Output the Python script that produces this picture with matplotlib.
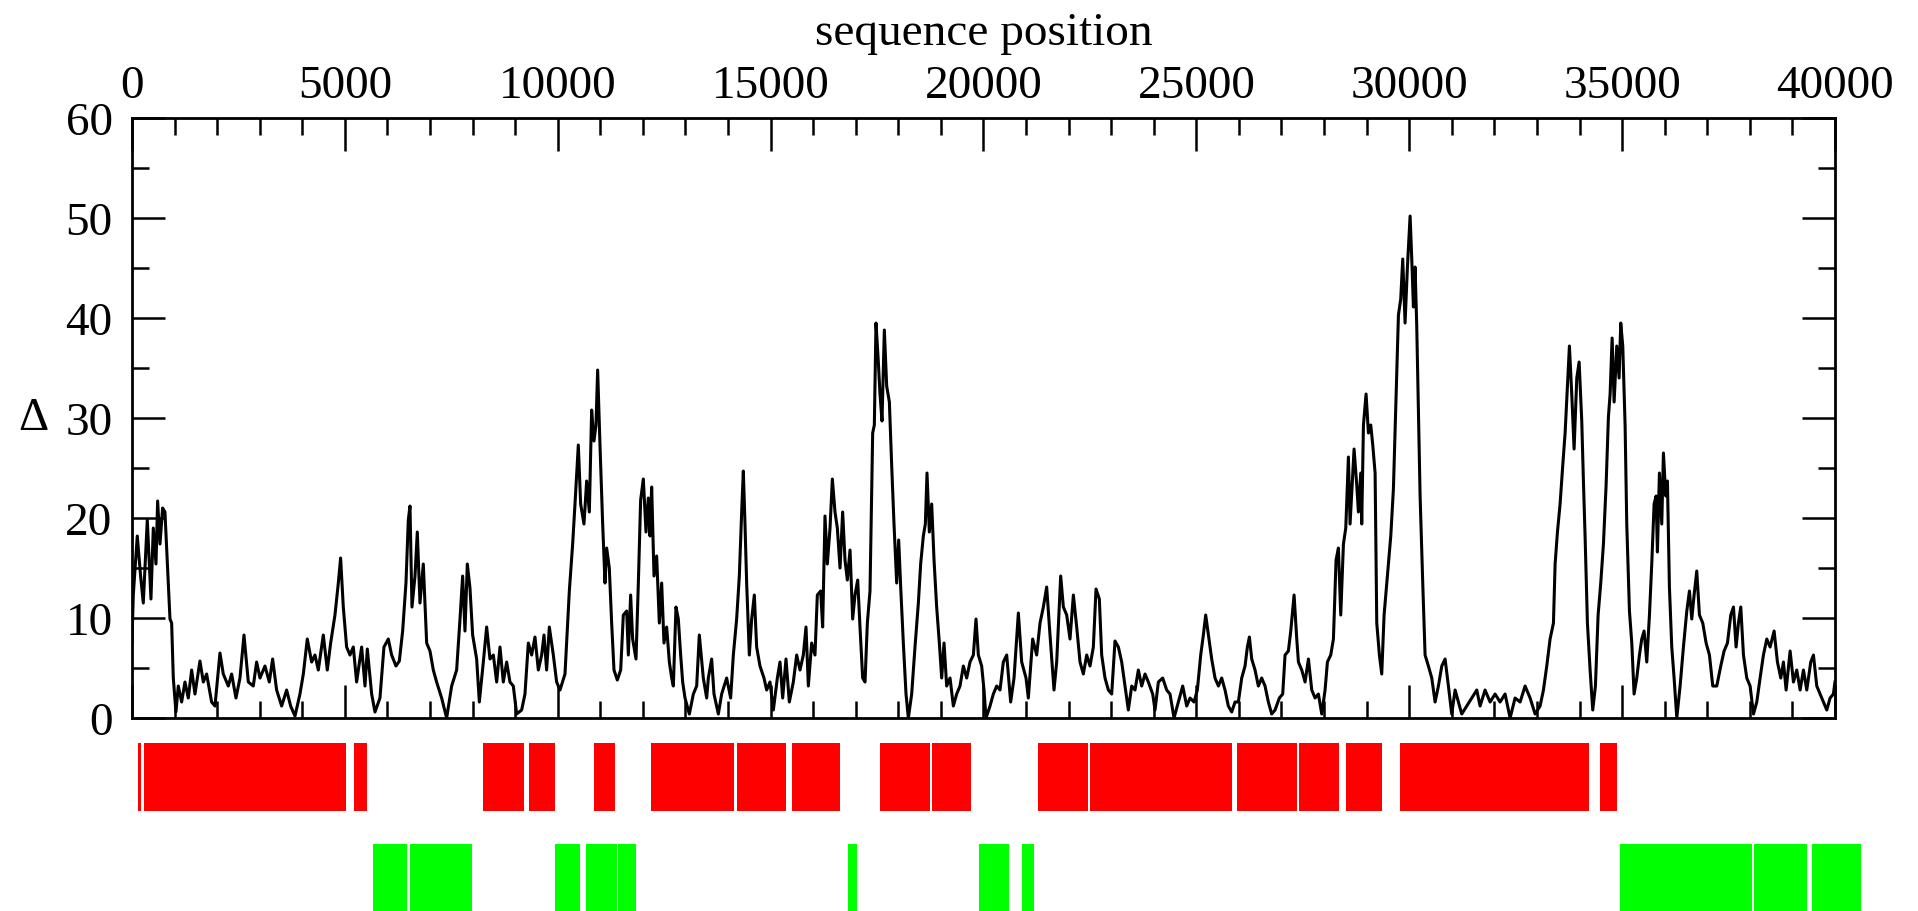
import matplotlib
matplotlib.use("Agg")
import matplotlib.pyplot as plt
from matplotlib.ticker import MultipleLocator

plt.rcParams['font.family'] = ['Liberation Serif', 'DejaVu Serif']

# traced profile (sequence position, delta)
position = [
    0, 31, 125, 203, 266, 360, 446, 501, 564, 603, 658, 720, 775, 853, 893, 932,
    971, 1033, 1088, 1167, 1245, 1323, 1402, 1480, 1597, 1676, 1754, 1871, 1950,
    2067, 2145, 2263, 2341, 2443, 2537, 2631, 2733, 2850, 2928, 3007, 3124, 3226,
    3304, 3398, 3516, 3633, 3727, 3829, 3946, 4025, 4118, 4220, 4299, 4377, 4494,
    4588, 4667, 4768, 4847, 4901, 4964, 5042, 5121, 5199, 5277, 5395, 5473, 5528,
    5630, 5708, 5825, 5919, 6021, 6099, 6201, 6280, 6358, 6436, 6491, 6530, 6577,
    6648, 6702, 6765, 6843, 6922, 7000, 7078, 7156, 7274, 7391, 7509, 7626, 7705,
    7767, 7822, 7877, 7939, 8002, 8096, 8159, 8253, 8331, 8409, 8488, 8566, 8644,
    8722, 8801, 8879, 8957, 9036, 9153, 9231, 9310, 9388, 9466, 9545, 9623, 9678,
    9740, 9803, 9897, 9975, 10054, 10171, 10273, 10351, 10406, 10484, 10539, 10617,
    10680, 10743, 10797, 10852, 10899, 10938, 10993, 11056, 11111, 11150, 11212,
    11267, 11322, 11400, 11479, 11541, 11620, 11659, 11713, 11760, 11839, 11894,
    11948, 12011, 12074, 12128, 12168, 12207, 12262, 12324, 12387, 12442, 12496,
    12559, 12622, 12677, 12716, 12778, 12833, 12888, 12935, 12990, 13092, 13186,
    13264, 13326, 13420, 13499, 13538, 13616, 13671, 13773, 13851, 13968, 14062,
    14125, 14203, 14266, 14321, 14360, 14399, 14438, 14501, 14556, 14618, 14673,
    14751, 14845, 14908, 14986, 15065, 15159, 15221, 15284, 15362, 15440, 15534,
    15613, 15691, 15769, 15832, 15887, 15965, 16043, 16098, 16176, 16223, 16278,
    16333, 16396, 16451, 16513, 16568, 16631, 16693, 16748, 16803, 16866, 16928,
    16983, 17046, 17100, 17163, 17218, 17273, 17335, 17398, 17437, 17476, 17531,
    17570, 17617, 17672, 17727, 17790, 17844, 17899, 17962, 18009, 18056, 18118,
    18181, 18236, 18314, 18392, 18471, 18525, 18588, 18635, 18674, 18729, 18784,
    18839, 18901, 18964, 19019, 19074, 19136, 19215, 19293, 19371, 19449, 19528,
    19606, 19684, 19763, 19825, 19880, 19958, 20013, 20060, 20154, 20232, 20311,
    20389, 20467, 20546, 20639, 20718, 20820, 20898, 21000, 21054, 21156, 21250,
    21329, 21407, 21485, 21563, 21657, 21720, 21814, 21877, 21955, 22033, 22112,
    22190, 22268, 22346, 22425, 22503, 22581, 22644, 22722, 22777, 22855, 22934,
    23012, 23090, 23169, 23247, 23325, 23403, 23482, 23560, 23638, 23717, 23795,
    23873, 23975, 24030, 24108, 24210, 24304, 24382, 24476, 24578, 24680, 24774,
    24852, 24946, 25024, 25103, 25165, 25220, 25283, 25361, 25439, 25518, 25596,
    25674, 25752, 25831, 25909, 25987, 26066, 26144, 26199, 26246, 26301, 26379,
    26457, 26535, 26614, 26692, 26770, 26849, 26950, 27029, 27084, 27162, 27218,
    27296, 27359, 27398, 27476, 27554, 27633, 27711, 27789, 27867, 27946, 28024,
    28079, 28157, 28220, 28282, 28337, 28392, 28455, 28510, 28572, 28611, 28666,
    28705, 28768, 28807, 28862, 28885, 28925, 28987, 29042, 29097, 29144, 29199,
    29238, 29300, 29355, 29410, 29457, 29512, 29567, 29629, 29692, 29747, 29801,
    29848, 29903, 29958, 30021, 30060, 30099, 30138, 30177, 30216, 30256, 30318,
    30373, 30451, 30530, 30608, 30686, 30765, 30843, 30921, 30999, 31078, 31156,
    31234, 31352, 31469, 31587, 31665, 31782, 31900, 32017, 32135, 32252, 32370,
    32487, 32605, 32722, 32840, 32957, 33074, 33153, 33231, 33309, 33388, 33427,
    33482, 33544, 33607, 33662, 33716, 33763, 33818, 33873, 33936, 33991, 34053,
    34092, 34131, 34186, 34249, 34311, 34374, 34437, 34499, 34562, 34625, 34679,
    34719, 34766, 34813, 34875, 34930, 34969, 35016, 35071, 35110, 35173, 35228,
    35282, 35345, 35408, 35462, 35517, 35580, 35643, 35697, 35752, 35799, 35830,
    35877, 35932, 35971, 36026, 36065, 36112, 36167, 36222, 36285, 36363, 36441,
    36520, 36582, 36637, 36692, 36754, 36817, 36895, 36974, 37052, 37130, 37224,
    37318, 37396, 37475, 37553, 37616, 37678, 37733, 37788, 37851, 37929, 38007,
    38086, 38164, 38242, 38320, 38399, 38477, 38571, 38649, 38728, 38790, 38853,
    38947, 39025, 39103, 39182, 39260, 39338, 39432, 39495, 39573, 39651, 39730,
    39808, 39886, 39964, 40000,
]
delta = [
    7.5, 12.3, 18.2, 14.2, 11.5, 19.8, 11.9, 19.0, 15.4, 21.7, 17.4, 21.0, 20.6,
    13.5, 9.9, 9.5, 4.0, 0.6, 3.2, 1.6, 3.6, 2.0, 4.8, 2.4, 5.7, 3.6, 4.4, 1.6,
    1.2, 6.5, 4.4, 3.2, 4.4, 2.0, 4.0, 8.3, 3.6, 3.2, 5.6, 4.0, 5.2, 3.6, 5.9,
    2.8, 1.2, 2.8, 1.2, 0.2, 2.4, 4.4, 7.9, 5.6, 6.3, 4.8, 8.3, 4.8, 7.5, 10.3,
    13.5, 16.0, 11.1, 7.1, 6.3, 7.1, 3.6, 7.1, 3.2, 6.9, 2.4, 0.6, 2.0, 7.1, 7.9,
    6.3, 5.2, 5.7, 8.7, 13.5, 19.8, 21.2, 11.1, 14.2, 18.6, 11.5, 15.4, 7.5, 6.7,
    4.8, 3.6, 2.0, 0.0, 3.2, 4.8, 9.9, 14.2, 8.7, 15.4, 13.0, 8.3, 5.9, 1.6, 5.6,
    9.1, 5.9, 6.3, 3.6, 7.1, 3.6, 5.6, 3.6, 3.2, 0.4, 0.8, 2.4, 7.5, 6.3, 8.1,
    4.8, 6.3, 8.3, 4.8, 9.1, 6.3, 3.6, 2.8, 4.4, 12.7, 17.4, 21.4, 27.3, 21.4,
    19.4, 23.7, 20.6, 30.8, 27.7, 29.3, 34.8, 27.3, 19.4, 13.5, 17.0, 15.0, 9.5,
    4.8, 3.8, 4.8, 10.3, 10.7, 6.3, 12.3, 7.9, 5.9, 13.5, 21.8, 23.9, 18.6, 22.0,
    18.2, 23.1, 14.2, 16.2, 9.5, 13.5, 7.5, 9.1, 5.6, 4.0, 3.2, 11.1, 9.9, 6.3,
    3.6, 2.0, 0.4, 2.4, 3.2, 8.3, 4.0, 2.0, 4.0, 5.9, 2.4, 0.4, 2.4, 4.0, 2.0,
    6.3, 9.9, 14.2, 20.6, 24.7, 19.4, 13.5, 6.3, 9.9, 12.3, 7.1, 5.2, 4.0, 2.8,
    3.6, 0.8, 4.0, 5.6, 2.0, 5.9, 1.6, 3.6, 6.3, 4.8, 6.3, 9.1, 3.2, 7.5, 6.3,
    12.3, 12.7, 9.1, 20.2, 15.4, 19.0, 23.9, 20.6, 19.0, 15.0, 20.6, 15.8, 13.8,
    16.8, 9.9, 12.3, 13.8, 9.1, 4.0, 3.6, 9.5, 12.7, 28.5, 29.3, 39.5, 35.6, 32.4,
    29.7, 38.8, 33.2, 31.6, 25.3, 19.4, 13.5, 17.8, 13.1, 7.5, 2.4, 0.0, 2.4, 7.1,
    11.5, 15.4, 18.2, 19.4, 24.5, 18.6, 21.4, 15.8, 11.1, 7.5, 4.0, 7.5, 3.2, 4.0,
    1.2, 2.4, 3.2, 5.2, 4.0, 5.6, 6.3, 9.9, 6.3, 5.2, 2.8, 0.0, 1.2, 2.4, 3.2,
    2.8, 5.6, 6.3, 1.6, 4.0, 10.5, 5.6, 4.0, 2.0, 7.9, 6.3, 9.5, 11.1, 13.1, 8.3,
    2.8, 5.6, 14.2, 11.1, 10.3, 7.9, 12.3, 9.1, 5.6, 4.4, 6.3, 5.2, 7.1, 12.9,
    11.9, 6.3, 4.0, 2.8, 2.4, 7.7, 7.1, 5.6, 3.2, 0.8, 3.2, 2.8, 4.8, 3.2, 4.4,
    3.6, 2.4, 0.8, 3.6, 4.0, 2.8, 2.4, 0.0, 1.6, 3.2, 1.2, 2.0, 1.6, 2.8, 6.3,
    8.3, 10.3, 8.3, 5.9, 4.0, 3.2, 4.0, 2.8, 1.2, 0.6, 1.6, 1.6, 4.0, 5.2, 7.1,
    8.1, 5.9, 4.8, 3.2, 4.0, 3.2, 1.6, 0.4, 0.8, 2.0, 2.4, 6.3, 6.7, 8.7, 12.3,
    7.9, 5.6, 4.8, 3.6, 5.9, 2.8, 2.0, 2.4, 0.4, 2.8, 5.6, 6.3, 7.9, 15.8, 17.0,
    10.3, 17.4, 19.0, 26.1, 19.4, 23.7, 26.9, 23.3, 20.6, 24.5, 19.4, 29.3, 32.4,
    28.5, 29.3, 27.3, 24.5, 9.5, 6.3, 4.4, 10.3, 12.7, 15.4, 18.2, 22.9, 32.4,
    40.3, 41.9, 45.9, 39.5, 45.1, 50.2, 45.9, 41.1, 45.1, 39.2, 30.8, 22.2, 13.5,
    6.3, 5.2, 4.0, 1.6, 3.2, 5.2, 5.9, 3.2, 0.4, 2.8, 1.6, 0.4, 1.2, 2.0, 2.8,
    1.2, 2.8, 1.6, 2.4, 1.6, 2.4, 0.0, 2.0, 1.6, 3.2, 2.0, 0.4, 1.2, 2.8, 5.2,
    7.9, 9.5, 15.4, 18.6, 21.4, 25.3, 28.5, 33.2, 37.2, 32.4, 26.9, 34.0, 35.6,
    29.7, 23.7, 18.2, 9.5, 4.8, 0.8, 3.2, 10.3, 13.5, 17.4, 23.3, 30.1, 32.4,
    38.0, 31.6, 37.2, 34.0, 39.5, 37.2, 29.3, 19.4, 10.7, 7.5, 2.4, 4.0, 6.3, 7.9,
    8.7, 5.6, 10.3, 15.4, 21.4, 22.2, 16.6, 24.5, 19.4, 26.5, 22.2, 23.7, 13.1,
    7.1, 4.0, 0.0, 3.2, 7.1, 10.7, 12.7, 9.9, 12.3, 14.7, 10.3, 9.5, 7.5, 6.3,
    3.2, 3.2, 5.2, 6.7, 7.5, 10.3, 11.1, 7.1, 9.5, 11.1, 6.3, 4.0, 3.2, 0.4, 1.6,
    4.0, 6.3, 7.9, 7.1, 8.7, 5.6, 4.0, 5.6, 2.8, 6.7, 3.6, 4.8, 2.8, 4.8, 2.8,
    5.6, 6.3, 3.2, 2.4, 1.6, 0.8, 2.0, 2.4, 3.6,
]

# annotation blocks (start, end) in sequence position
red_start = [136, 284, 5219, 8241, 9333, 10857, 12192, 14214, 15508, 17571,
             18799, 21284, 22508, 25960, 27418, 28517, 29783, 34486]
red_end = [216, 5031, 5515, 9210, 9939, 11341, 14146, 15360, 16629, 18745,
           19715, 22452, 25837, 27362, 28353, 29355, 34225, 34885]
green_start = [5666, 6528, 9939, 10667, 11424, 16817, 19887, 20911, 34952,
               38100, 39463]
green_end = [6460, 7984, 10519, 11395, 11842, 17032, 20596, 21188, 38050,
             39341, 40620]

fig = plt.figure(figsize=(19.18, 9.12), dpi=100)
ax = fig.add_axes([0.0688, 0.2116, 0.8879, 0.6579])
ax.plot(position, delta, color='black', lw=2.2)
ax.set_xlim(0, 40000)
ax.set_ylim(0, 60)

ax.xaxis.set_major_locator(MultipleLocator(5000))
ax.xaxis.set_minor_locator(MultipleLocator(1000))
ax.yaxis.set_major_locator(MultipleLocator(10))
ax.yaxis.set_minor_locator(MultipleLocator(5))
ax.tick_params(which='both', direction='in', top=True, bottom=True,
               left=True, right=True, labeltop=True, labelbottom=False,
               width=1.8, labelsize=34)
ax.tick_params(which='major', length=24)
ax.tick_params(which='minor', length=12)
ax.tick_params(axis='x', pad=8)
ax.tick_params(axis='y', pad=14)
for sp in ax.spines.values():
    sp.set_linewidth(2)

ax.xaxis.set_label_position('top')
ax.set_xlabel('sequence position', fontsize=34, labelpad=15)
fig.text(33 / 1918, 1 - 419 / 912, 'Δ', fontsize=34, ha='center', va='center')

# annotation strip below the plot
bax = fig.add_axes([0.0688, 0.0, 0.8879, 0.1842])
bax.set_xlim(0, 40000)
bax.set_ylim(0, 1)
bax.axis('off')
bax.barh(0.7975, [e - s for s, e in zip(red_start, red_end)], left=red_start,
         height=0.405, color='#ff0000', linewidth=0, clip_on=False)
bax.barh(0.1995, [e - s for s, e in zip(green_start, green_end)], left=green_start,
         height=0.399, color='#00ff00', linewidth=0, clip_on=False)

fig.savefig('out.png', dpi=100)
